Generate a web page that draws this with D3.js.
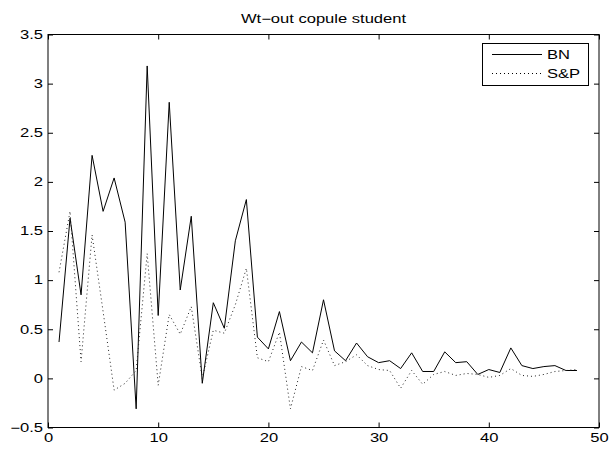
<!DOCTYPE html>
<html>
<head>
<meta charset="utf-8">
<script src="https://cdn.jsdelivr.net/npm/d3@7"></script>
<style>
  body { margin: 0; background: #fff; }
  svg { display: block; }
  text { font-family: "Liberation Sans", Arial, Helvetica, sans-serif; fill: #000; }
</style>
</head>
<body>
<svg id="chart" width="609" height="450"></svg>
<script>
const titleText = "Wt\u2212out copule student";
const xValues = d3.range(1, 49);
const bnValues = [0.37, 1.63, 0.85, 2.27, 1.70, 2.04, 1.59, -0.31, 3.18, 0.64,
  2.81, 0.90, 1.65, -0.05, 0.77, 0.51, 1.40, 1.82, 0.42, 0.30,
  0.68, 0.18, 0.37, 0.26, 0.80, 0.28, 0.18, 0.36, 0.22, 0.16,
  0.18, 0.10, 0.26, 0.07, 0.07, 0.27, 0.16, 0.17, 0.04, 0.09,
  0.06, 0.31, 0.13, 0.10, 0.12, 0.13, 0.08, 0.08];
const spValues = [1.08, 1.70, 0.17, 1.46, 0.68, -0.12, -0.05, 0.08, 1.27, -0.07,
  0.65, 0.45, 0.73, 0.00, 0.49, 0.46, 0.75, 1.12, 0.21, 0.17,
  0.47, -0.31, 0.12, 0.08, 0.39, 0.13, 0.17, 0.24, 0.13, 0.09,
  0.08, -0.10, 0.08, -0.06, 0.04, 0.07, 0.03, 0.05, 0.04, 0.01,
  0.03, 0.10, 0.03, 0.02, 0.04, 0.07, 0.08, 0.09];
const xTicks = [0, 10, 20, 30, 40, 50];
const yTicks = [-0.5, 0, 0.5, 1, 1.5, 2, 2.5, 3, 3.5];
const seriesNames = ["BN", "S&P"];

const SX = 1.38;      // horizontal stretch of the reference's lettering
const FS = "12px";

const svg = d3.select("#chart");
const L = 48, R = 599, T = 34.5, B = 427.5;
const x = d3.scaleLinear().domain([0, 50]).range([L, R]);
const y = d3.scaleLinear().domain([-0.5, 3.5]).range([B, T]);

const fmt = v => (v < 0 ? "\u2212" : "") + String(Math.abs(v));

const gx = svg.append("g").attr("transform", `translate(0,${B})`)
  .call(d3.axisBottom(x).tickValues(xTicks).tickSize(-5).tickPadding(6).tickFormat(fmt));
const gxt = svg.append("g").attr("transform", `translate(0,${T})`)
  .call(d3.axisTop(x).tickValues(xTicks).tickSize(-5).tickFormat(""));
const gy = svg.append("g").attr("transform", `translate(${L},0)`)
  .call(d3.axisLeft(y).tickValues(yTicks).tickSize(-5).tickFormat(fmt));
const gyr = svg.append("g").attr("transform", `translate(${R},0)`)
  .call(d3.axisRight(y).tickValues(yTicks).tickSize(-5).tickFormat(""));

[gx, gxt, gy, gyr].forEach(g => {
  g.select(".domain").remove();
  g.selectAll("line").attr("stroke", "#000").attr("stroke-width", 1);
  g.selectAll("text").style("font-size", FS).attr("fill", "#000")
    .style("font-family", "'Liberation Sans', Arial, sans-serif")
    .attr("transform", `scale(${SX},1)`);
});
gy.selectAll("text").attr("x", -5 / SX).attr("text-anchor", "end");

svg.append("rect").attr("x", L).attr("y", T).attr("width", R - L).attr("height", B - T)
  .attr("fill", "none").attr("stroke", "#000").attr("stroke-width", 1);

const line = d3.line().x((d, i) => x(xValues[i])).y(d => y(d));
svg.append("path").datum(bnValues).attr("d", line)
  .attr("fill", "none").attr("stroke", "#000").attr("stroke-width", 1);
svg.append("path").datum(spValues).attr("d", line)
  .attr("fill", "none").attr("stroke", "#222").attr("stroke-width", 1)
  .attr("stroke-dasharray", "1,3");

svg.append("text").attr("transform", `translate(${(L + R) / 2},22.5) scale(${SX},1)`)
  .attr("text-anchor", "middle").style("font-size", FS).text(titleText);

const lg = svg.append("g");
lg.append("rect").attr("x", 482.5).attr("y", 43.5).attr("width", 106).attr("height", 42)
  .attr("fill", "#fff").attr("stroke", "#000").attr("stroke-width", 1);
const rows = [54.5, 73.5];
seriesNames.forEach((name, i) => {
  lg.append("line").attr("x1", 492).attr("x2", 542).attr("y1", rows[i]).attr("y2", rows[i])
    .attr("stroke", "#000").attr("stroke-width", 1)
    .attr("stroke-dasharray", i === 1 ? "1,3" : null);
  lg.append("text").attr("transform", `translate(547,${rows[i] + 4.3}) scale(${SX},1)`)
    .style("font-size", FS).text(name);
});
</script>
</body>
</html>
